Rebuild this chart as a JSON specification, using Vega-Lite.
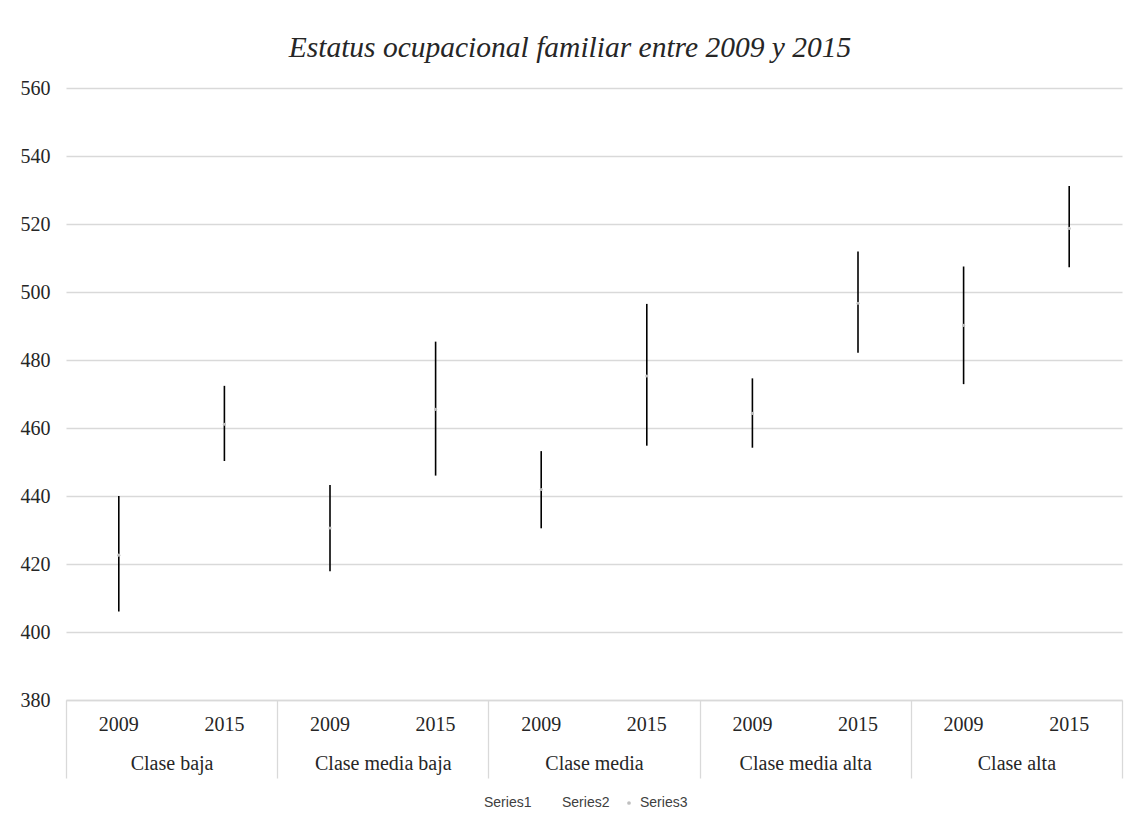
{
  "$schema": "https://vega.github.io/schema/vega-lite/v6.json",
  "autosize": "none",
  "width": 1056,
  "height": 612,
  "padding": {"left": 66, "top": 88, "right": 7, "bottom": 128},
  "background": "white",
  "title": {
    "text": "Estatus ocupacional familiar entre 2009 y 2015",
    "font": "Liberation Serif",
    "fontStyle": "italic",
    "fontWeight": "normal",
    "fontSize": 29.5,
    "color": "#262626",
    "anchor": "middle",
    "frame": "group",
    "dx": -24,
    "offset": 15
  },
  "config": {
    "view": {"stroke": null},
    "axis": {"labelFont": "Liberation Serif", "labelColor": "#262626", "labelFontSize": 20}
  },
  "data": {
    "values": [
      {"grupo": "Clase baja", "anio": "2009", "bajo": 406.0, "alto": 440.0, "cierre": 422.6},
      {"grupo": "Clase baja", "anio": "2015", "bajo": 450.3, "alto": 472.4, "cierre": 461.1},
      {"grupo": "Clase media baja", "anio": "2009", "bajo": 417.9, "alto": 443.2, "cierre": 430.6},
      {"grupo": "Clase media baja", "anio": "2015", "bajo": 446.0, "alto": 485.4, "cierre": 465.5},
      {"grupo": "Clase media", "anio": "2009", "bajo": 430.5, "alto": 453.2, "cierre": 441.9},
      {"grupo": "Clase media", "anio": "2015", "bajo": 454.8, "alto": 496.5, "cierre": 475.3},
      {"grupo": "Clase media alta", "anio": "2009", "bajo": 454.2, "alto": 474.6, "cierre": 464.3},
      {"grupo": "Clase media alta", "anio": "2015", "bajo": 482.1, "alto": 511.9, "cierre": 496.7},
      {"grupo": "Clase alta", "anio": "2009", "bajo": 472.9, "alto": 507.5, "cierre": 490.2},
      {"grupo": "Clase alta", "anio": "2015", "bajo": 507.3, "alto": 531.2, "cierre": 518.7}
    ]
  },
  "encoding": {
    "x": {
      "field": "grupo",
      "type": "nominal",
      "sort": null,
      "scale": {"paddingInner": 0, "paddingOuter": 0},
      "axis": {
        "title": null,
        "labelAngle": 0,
        "tickBand": "extent",
        "tickSize": 78,
        "tickColor": "#d9d9d9",
        "tickWidth": 1.3,
        "domainColor": "#d9d9d9",
        "domainWidth": 1.3,
        "labelBaseline": "middle",
        "labelPadding": -15
      }
    },
    "xOffset": {"field": "anio", "type": "nominal", "scale": {"paddingInner": 0, "paddingOuter": 0}}
  },
  "layer": [
    {
      "mark": {"type": "rule", "color": "black", "strokeWidth": 1.6},
      "encoding": {
        "y": {
          "field": "bajo",
          "type": "quantitative",
          "scale": {"domain": [380, 560], "zero": false, "nice": false},
          "axis": {
            "title": null,
            "values": [380, 400, 420, 440, 460, 480, 500, 520, 540, 560],
            "grid": true,
            "gridColor": "#d9d9d9",
            "gridWidth": 1.3,
            "domain": false,
            "ticks": false,
            "labelPadding": 16
          }
        },
        "y2": {"field": "alto"}
      }
    },
    {
      "mark": {"type": "point", "filled": true, "shape": "circle", "size": 10, "opacity": 1},
      "encoding": {
        "y": {"field": "cierre", "type": "quantitative"},
        "color": {
          "datum": "Series3",
          "type": "nominal",
          "scale": {"domain": ["Series1", "Series2", "Series3"], "range": ["rgba(255,255,255,0)", "rgba(255,255,255,0)", "#bfbfbf"]},
          "legend": {
            "title": null,
            "orient": "none",
            "legendX": 400,
            "legendY": 708,
            "padding": 0,
            "direction": "horizontal",
            "labelFont": "Liberation Sans",
            "labelFontSize": 14,
            "labelColor": "#404040",
            "symbolSize": 14,
            "symbolType": "circle",
            "symbolStrokeWidth": 0,
            "columnPadding": 12,
            "labelOffset": 4
          }
        }
      }
    },
    {
      "mark": {"type": "text", "font": "Liberation Serif", "fontSize": 20, "color": "#262626", "baseline": "middle", "dy": 25},
      "encoding": {
        "y": {"datum": 380, "type": "quantitative"},
        "text": {"field": "anio"}
      }
    }
  ]
}
